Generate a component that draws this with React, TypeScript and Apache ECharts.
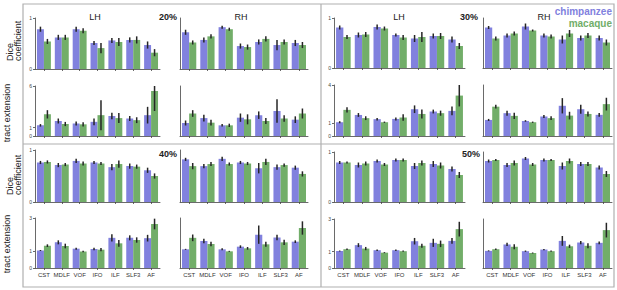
import React, { useEffect, useRef } from "react";
import * as echarts from "echarts";

const categories = ["CST", "MDLF", "VOF", "IFO", "ILF", "SLF3", "AF"];
const panelLabels = ["20%", "30%", "40%", "50%"];
const diceTicks = [0, 1];
const tract20Ticks = [0, 1, 6];
const tract30Ticks = [0, 1, 4];
const tract40Ticks = [0, 1, 3];
const tract50Ticks = [0, 1, 3];

// 20%
const dice20LH_chimp = [0.78, 0.62, 0.78, 0.51, 0.56, 0.57, 0.47];
const dice20LH_chimpErr = [0.05, 0.05, 0.05, 0.04, 0.05, 0.05, 0.07];
const dice20LH_mac = [0.54, 0.62, 0.75, 0.41, 0.53, 0.57, 0.32];
const dice20LH_macErr = [0.05, 0.05, 0.05, 0.1, 0.08, 0.07, 0.07];
const dice20RH_chimp = [0.72, 0.57, 0.82, 0.45, 0.53, 0.47, 0.51];
const dice20RH_chimpErr = [0.05, 0.05, 0.03, 0.05, 0.05, 0.1, 0.06];
const dice20RH_mac = [0.52, 0.64, 0.78, 0.43, 0.59, 0.53, 0.47];
const dice20RH_macErr = [0.04, 0.04, 0.03, 0.05, 0.05, 0.05, 0.06];
const tract20LH_chimp = [1.28, 1.8, 1.5, 1.7, 2.4, 2.1, 2.5];
const tract20LH_chimpErr = [0.15, 0.3, 0.25, 0.4, 0.4, 0.3, 1.0];
const tract20LH_mac = [2.6, 1.44, 1.4, 2.5, 2.15, 1.9, 5.4];
const tract20LH_macErr = [0.5, 0.25, 0.25, 1.8, 0.6, 0.35, 2.4];
const tract20RH_chimp = [1.56, 2.15, 1.28, 2.2, 2.5, 3.0, 1.96];
const tract20RH_chimpErr = [0.3, 0.4, 0.15, 0.5, 0.45, 1.4, 0.4];
const tract20RH_mac = [2.7, 1.6, 1.28, 2.0, 1.8, 2.1, 2.7];
const tract20RH_macErr = [0.4, 0.35, 0.2, 0.6, 0.35, 0.4, 0.6];

// 30%
const dice30LH_chimp = [0.81, 0.66, 0.82, 0.66, 0.59, 0.64, 0.57];
const dice30LH_chimpErr = [0.04, 0.05, 0.05, 0.03, 0.07, 0.05, 0.06];
const dice30LH_mac = [0.62, 0.67, 0.79, 0.61, 0.62, 0.64, 0.44];
const dice30LH_macErr = [0.04, 0.05, 0.04, 0.05, 0.1, 0.06, 0.06];
const dice30RH_chimp = [0.81, 0.65, 0.83, 0.65, 0.57, 0.6, 0.6];
const dice30RH_chimpErr = [0.03, 0.04, 0.06, 0.04, 0.08, 0.05, 0.05];
const dice30RH_mac = [0.59, 0.69, 0.75, 0.63, 0.69, 0.65, 0.51];
const dice30RH_macErr = [0.04, 0.04, 0.02, 0.04, 0.07, 0.05, 0.06];
const tract30LH_chimp = [1.08, 1.65, 1.32, 1.34, 2.1, 1.92, 1.97];
const tract30LH_chimpErr = [0.08, 0.15, 0.1, 0.12, 0.3, 0.15, 0.35];
const tract30LH_mac = [2.05, 1.4, 1.08, 1.45, 1.73, 1.79, 3.17];
const tract30LH_macErr = [0.2, 0.15, 0.05, 0.25, 0.35, 0.2, 0.85];
const tract30RH_chimp = [1.26, 1.79, 1.18, 1.53, 2.37, 2.1, 1.66];
const tract30RH_chimpErr = [0.08, 0.2, 0.06, 0.12, 0.6, 0.35, 0.15];
const tract30RH_mac = [2.3, 1.58, 1.08, 1.4, 1.6, 1.73, 2.5];
const tract30RH_macErr = [0.15, 0.25, 0.05, 0.15, 0.3, 0.2, 0.5];

// 40%
const dice40LH_chimp = [0.76, 0.71, 0.79, 0.76, 0.67, 0.69, 0.61];
const dice40LH_chimpErr = [0.03, 0.04, 0.04, 0.03, 0.06, 0.05, 0.05];
const dice40LH_mac = [0.77, 0.72, 0.74, 0.74, 0.73, 0.68, 0.5];
const dice40LH_macErr = [0.03, 0.03, 0.04, 0.03, 0.07, 0.04, 0.05];
const dice40RH_chimp = [0.82, 0.69, 0.83, 0.76, 0.65, 0.67, 0.66];
const dice40RH_chimpErr = [0.03, 0.04, 0.04, 0.03, 0.1, 0.05, 0.04];
const dice40RH_mac = [0.69, 0.73, 0.73, 0.74, 0.77, 0.71, 0.54];
const dice40RH_macErr = [0.06, 0.04, 0.03, 0.03, 0.06, 0.03, 0.05];
const tract40LH_chimp = [1.05, 1.54, 1.16, 1.14, 1.81, 1.81, 1.79];
const tract40LH_chimpErr = [0.03, 0.12, 0.06, 0.07, 0.22, 0.15, 0.2];
const tract40LH_mac = [1.34, 1.32, 0.99, 1.1, 1.48, 1.68, 2.64];
const tract40LH_macErr = [0.08, 0.14, 0.04, 0.1, 0.2, 0.16, 0.32];
const tract40RH_chimp = [1.12, 1.62, 1.12, 1.28, 2.0, 1.83, 1.58];
const tract40RH_chimpErr = [0.03, 0.14, 0.06, 0.08, 0.55, 0.16, 0.08];
const tract40RH_mac = [1.81, 1.44, 1.0, 1.18, 1.42, 1.54, 2.4];
const tract40RH_macErr = [0.2, 0.14, 0.03, 0.08, 0.15, 0.16, 0.4];

// 50%
const dice50LH_chimp = [0.79, 0.74, 0.82, 0.84, 0.72, 0.76, 0.66];
const dice50LH_chimpErr = [0.03, 0.05, 0.03, 0.03, 0.06, 0.06, 0.05];
const dice50LH_mac = [0.79, 0.77, 0.75, 0.84, 0.78, 0.73, 0.54];
const dice50LH_macErr = [0.02, 0.04, 0.03, 0.03, 0.05, 0.06, 0.06];
const dice50RH_chimp = [0.82, 0.74, 0.87, 0.84, 0.72, 0.76, 0.69];
const dice50RH_chimpErr = [0.03, 0.04, 0.03, 0.03, 0.07, 0.04, 0.04];
const dice50RH_mac = [0.84, 0.78, 0.75, 0.84, 0.82, 0.76, 0.56];
const dice50RH_macErr = [0.02, 0.05, 0.03, 0.02, 0.05, 0.04, 0.06];
const tract50LH_chimp = [1.04, 1.4, 1.09, 1.09, 1.64, 1.54, 1.66];
const tract50LH_chimpErr = [0.03, 0.12, 0.05, 0.05, 0.2, 0.25, 0.18];
const tract50LH_mac = [1.15, 1.19, 0.94, 1.03, 1.36, 1.48, 2.38];
const tract50LH_macErr = [0.05, 0.1, 0.03, 0.04, 0.12, 0.2, 0.45];
const tract50RH_chimp = [1.05, 1.44, 1.03, 1.13, 1.66, 1.56, 1.54];
const tract50RH_chimpErr = [0.03, 0.1, 0.04, 0.04, 0.3, 0.1, 0.08];
const tract50RH_mac = [1.15, 1.3, 0.92, 1.03, 1.33, 1.36, 2.32];
const tract50RH_macErr = [0.05, 0.15, 0.03, 0.04, 0.1, 0.15, 0.45];

const BLUE = "#8181de";
const GREEN = "#72ae69";
const FONT = "Liberation Sans, Arial, Helvetica, sans-serif";

type Sub = {
  panel: number;
  hemi: number;
  row: number;
  ticks: number[];
  chimp: number[];
  chimpErr: number[];
  mac: number[];
  macErr: number[];
};

const subplots: Sub[] = [
  { panel: 0, hemi: 0, row: 0, ticks: diceTicks, chimp: dice20LH_chimp, chimpErr: dice20LH_chimpErr, mac: dice20LH_mac, macErr: dice20LH_macErr },
  { panel: 0, hemi: 1, row: 0, ticks: diceTicks, chimp: dice20RH_chimp, chimpErr: dice20RH_chimpErr, mac: dice20RH_mac, macErr: dice20RH_macErr },
  { panel: 0, hemi: 0, row: 1, ticks: tract20Ticks, chimp: tract20LH_chimp, chimpErr: tract20LH_chimpErr, mac: tract20LH_mac, macErr: tract20LH_macErr },
  { panel: 0, hemi: 1, row: 1, ticks: tract20Ticks, chimp: tract20RH_chimp, chimpErr: tract20RH_chimpErr, mac: tract20RH_mac, macErr: tract20RH_macErr },
  { panel: 1, hemi: 0, row: 0, ticks: diceTicks, chimp: dice30LH_chimp, chimpErr: dice30LH_chimpErr, mac: dice30LH_mac, macErr: dice30LH_macErr },
  { panel: 1, hemi: 1, row: 0, ticks: diceTicks, chimp: dice30RH_chimp, chimpErr: dice30RH_chimpErr, mac: dice30RH_mac, macErr: dice30RH_macErr },
  { panel: 1, hemi: 0, row: 1, ticks: tract30Ticks, chimp: tract30LH_chimp, chimpErr: tract30LH_chimpErr, mac: tract30LH_mac, macErr: tract30LH_macErr },
  { panel: 1, hemi: 1, row: 1, ticks: tract30Ticks, chimp: tract30RH_chimp, chimpErr: tract30RH_chimpErr, mac: tract30RH_mac, macErr: tract30RH_macErr },
  { panel: 2, hemi: 0, row: 0, ticks: diceTicks, chimp: dice40LH_chimp, chimpErr: dice40LH_chimpErr, mac: dice40LH_mac, macErr: dice40LH_macErr },
  { panel: 2, hemi: 1, row: 0, ticks: diceTicks, chimp: dice40RH_chimp, chimpErr: dice40RH_chimpErr, mac: dice40RH_mac, macErr: dice40RH_macErr },
  { panel: 2, hemi: 0, row: 1, ticks: tract40Ticks, chimp: tract40LH_chimp, chimpErr: tract40LH_chimpErr, mac: tract40LH_mac, macErr: tract40LH_macErr },
  { panel: 2, hemi: 1, row: 1, ticks: tract40Ticks, chimp: tract40RH_chimp, chimpErr: tract40RH_chimpErr, mac: tract40RH_mac, macErr: tract40RH_macErr },
  { panel: 3, hemi: 0, row: 0, ticks: diceTicks, chimp: dice50LH_chimp, chimpErr: dice50LH_chimpErr, mac: dice50LH_mac, macErr: dice50LH_macErr },
  { panel: 3, hemi: 1, row: 0, ticks: diceTicks, chimp: dice50RH_chimp, chimpErr: dice50RH_chimpErr, mac: dice50RH_mac, macErr: dice50RH_macErr },
  { panel: 3, hemi: 0, row: 1, ticks: tract50Ticks, chimp: tract50LH_chimp, chimpErr: tract50LH_chimpErr, mac: tract50LH_mac, macErr: tract50LH_macErr },
  { panel: 3, hemi: 1, row: 1, ticks: tract50Ticks, chimp: tract50RH_chimp, chimpErr: tract50RH_chimpErr, mac: tract50RH_mac, macErr: tract50RH_macErr },
];

// layout (pixels)
const xLayout = [
  [{ left: 35, width: 125 }, { left: 180, width: 128 }],
  [{ left: 334, width: 131 }, { left: 483, width: 129 }],
  [{ left: 35, width: 125 }, { left: 180, width: 128 }],
  [{ left: 334, width: 131 }, { left: 483, width: 129 }],
];
const yLayout = [
  [{ top: 18, height: 51 }, { top: 86, height: 50 }],
  [{ top: 18, height: 50 }, { top: 85, height: 51 }],
  [{ top: 150, height: 52 }, { top: 218, height: 50 }],
  [{ top: 152, height: 50 }, { top: 219, height: 49 }],
];

const CAT_GAP = 0.22;

function buildOption() {
  const grid: any[] = [];
  const xAxis: any[] = [];
  const yAxis: any[] = [];
  const series: any[] = [];
  const axisColor = "#444";

  subplots.forEach((s, i) => {
    const xl = xLayout[s.panel][s.hemi];
    const yl = yLayout[s.panel][s.row];
    grid.push({ left: xl.left, top: yl.top, width: xl.width, height: yl.height, containLabel: false });
    const showCat = s.panel >= 2 && s.row === 1;
    xAxis.push({
      type: "category",
      gridIndex: i,
      data: categories,
      axisLine: { lineStyle: { color: axisColor, width: 0.8 } },
      axisTick: { show: true, alignWithLabel: true, length: 2, lineStyle: { color: axisColor, width: 0.8 } },
      axisLabel: { show: showCat, interval: 0, fontSize: 6, color: "#333", margin: 4, fontFamily: FONT },
      splitLine: { show: false },
    });
    const maxV = s.ticks[s.ticks.length - 1];
    const isLH = s.hemi === 0;
    yAxis.push({
      type: "value",
      gridIndex: i,
      min: 0,
      max: maxV,
      axisLine: { show: true, lineStyle: { color: axisColor, width: 0.8 } },
      axisTick: { show: isLH, length: 2, customValues: s.ticks, lineStyle: { color: axisColor, width: 0.8 } },
      axisLabel: { show: isLH, customValues: s.ticks, fontSize: 5, color: "#444", margin: 3, fontFamily: FONT },
      splitLine: { show: false },
    });
    series.push({
      type: "bar",
      name: "chimpanzee",
      xAxisIndex: i,
      yAxisIndex: i,
      data: s.chimp,
      barGap: "0%",
      barCategoryGap: CAT_GAP * 100 + "%",
      itemStyle: { color: BLUE },
    });
    series.push({
      type: "bar",
      name: "macaque",
      xAxisIndex: i,
      yAxisIndex: i,
      data: s.mac,
      barGap: "0%",
      barCategoryGap: CAT_GAP * 100 + "%",
      itemStyle: { color: GREEN },
    });
    series.push({
      type: "custom",
      xAxisIndex: i,
      yAxisIndex: i,
      clip: true,
      z: 5,
      data: categories.map((_, k) => [k, s.chimp[k], s.chimpErr[k], s.mac[k], s.macErr[k]]),
      renderItem: (params: any, api: any) => {
        const k = api.value(0);
        const band = api.size([1, 0])[0];
        const bw = (band * (1 - CAT_GAP)) / 2;
        const items: [number, number, number][] = [
          [api.value(1), api.value(2), -bw / 2],
          [api.value(3), api.value(4), bw / 2],
        ];
        const children = items.map(([v, e, off]) => {
          const lo = api.coord([k, v - e]);
          const hi = api.coord([k, v + e]);
          return {
            type: "line",
            shape: { x1: lo[0] + off, y1: lo[1], x2: lo[0] + off, y2: hi[1] },
            style: { stroke: "#262626", lineWidth: 1.5 },
          };
        });
        return { type: "group", children };
      },
    });
  });

  const txt = (x: number, y: number, text: string, opts: any = {}) => ({
    type: "text",
    x,
    y,
    rotation: opts.rotation || 0,
    style: {
      text,
      fill: opts.fill || "#222",
      fontSize: opts.fontSize || 9,
      fontWeight: opts.fontWeight || "normal",
      fontFamily: FONT,
      textAlign: opts.align || "center",
      textVerticalAlign: "middle",
    },
  });

  const graphic: any[] = [
    { type: "rect", shape: { x: 23, y: 4, width: 591, height: 283 }, style: { fill: "none", stroke: "#b0b0b0", lineWidth: 1.2 } },
    { type: "line", shape: { x1: 321, y1: 4, x2: 321, y2: 287 }, style: { stroke: "#b0b0b0", lineWidth: 1.2 } },
    { type: "line", shape: { x1: 23, y1: 144, x2: 614, y2: 144 }, style: { stroke: "#b0b0b0", lineWidth: 1.2 } },
    txt(95, 17, "LH", { fontSize: 9 }),
    txt(241, 17, "RH", { fontSize: 9 }),
    txt(399, 17, "LH", { fontSize: 9 }),
    txt(544, 17, "RH", { fontSize: 9 }),
    txt(168, 17, panelLabels[0], { fontSize: 9, fontWeight: "bold" }),
    txt(469, 17, panelLabels[1], { fontSize: 9, fontWeight: "bold" }),
    txt(168, 154, panelLabels[2], { fontSize: 9, fontWeight: "bold" }),
    txt(471, 154, panelLabels[3], { fontSize: 9, fontWeight: "bold" }),
    txt(612, 11, "chimpanzee", { fontSize: 10, fontWeight: "bold", fill: BLUE, align: "right" }),
    txt(612, 23, "macaque", { fontSize: 10, fontWeight: "bold", fill: GREEN, align: "right" }),
    txt(10, 61, "Dice", { rotation: Math.PI / 2, align: "left", fontSize: 9 }),
    txt(18, 61, "coefficient", { rotation: Math.PI / 2, align: "left", fontSize: 9 }),
    txt(7, 113, "tract extension", { rotation: Math.PI / 2, fontSize: 9 }),
    txt(10, 195, "Dice", { rotation: Math.PI / 2, align: "left", fontSize: 9 }),
    txt(18, 195, "coefficient", { rotation: Math.PI / 2, align: "left", fontSize: 9 }),
    txt(7, 244, "tract extension", { rotation: Math.PI / 2, fontSize: 9 }),
  ];

  return {
    animation: false,
    backgroundColor: "#ffffff",
    grid,
    xAxis,
    yAxis,
    series,
    graphic,
  };
}

export default function App() {
  const ref = useRef<HTMLDivElement>(null);
  useEffect(() => {
    if (!ref.current) return;
    const chart = echarts.init(ref.current, undefined, { renderer: "svg" });
    chart.setOption(buildOption() as any);
    return () => chart.dispose();
  }, []);
  return (
    <div
      ref={ref}
      style={{ position: "fixed", left: 0, top: 0, width: 617, height: 290, background: "#fff" }}
    />
  );
}
